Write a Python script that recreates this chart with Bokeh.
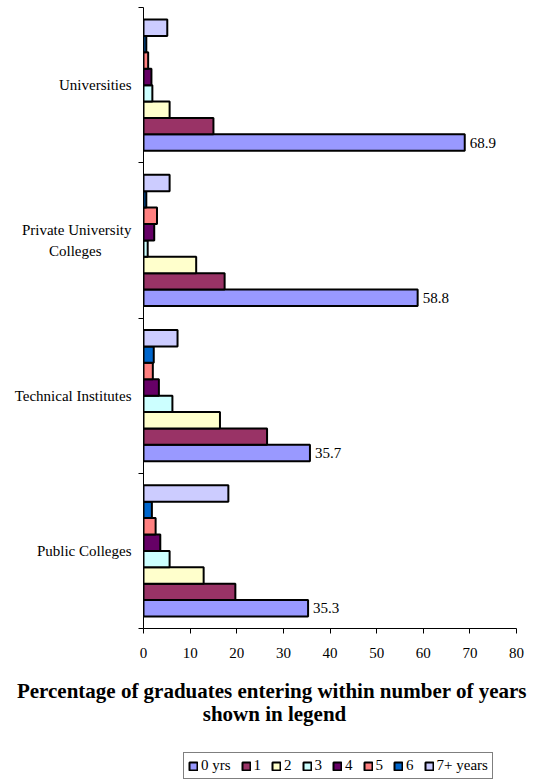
from bokeh.plotting import figure
from bokeh.models import (Range1d, FixedTicker, ColumnDataSource,
                          Legend, LegendItem, Label)
from bokeh.transform import dodge
from bokeh.core.properties import value
from bokeh.embed import file_html
from bokeh.resources import INLINE

# ---------------- data ----------------
categories = ["Universities", "Private University Colleges", "Technical Institutes", "Public Colleges"]
category_labels = ["Universities", "Private University\nColleges" + "\u00a0" * 8,
                   "Technical Institutes", "Public Colleges"]
series_names = ["0 yrs", "1", "2", "3", "4", "5", "6", "7+ years"]
yrs0 = [68.9, 58.8, 35.7, 35.3]
yrs1 = [15.0, 17.4, 26.5, 19.7]
yrs2 = [5.6, 11.3, 16.4, 12.9]
yrs3 = [1.9, 0.9, 6.2, 5.6]
yrs4 = [1.7, 2.3, 3.3, 3.6]
yrs5 = [1.0, 2.9, 2.0, 2.6]
yrs6 = [0.6, 0.6, 2.2, 1.8]
yrs7 = [5.1, 5.6, 7.3, 18.2]
series_values = [yrs0, yrs1, yrs2, yrs3, yrs4, yrs5, yrs6, yrs7]
colors = ["#9999FF", "#993366", "#FFFFCC", "#CCFFFF", "#660066", "#FF8080", "#0066CC", "#CCCCFF"]
x_ticks = [0, 10, 20, 30, 40, 50, 60, 70, 80]
title_lines = ["Percentage of graduates entering within  number of years", "shown in legend"]

FONT = "Liberation Serif"
ncat = len(categories)
# category slot centres (first category at the top)
cat_pos = [ncat - 1 - i + 0.5 for i in range(ncat)]

W = 551
H1 = 665
H2 = 114

p = figure(width=W, height=H1,
           y_range=Range1d(0, ncat), x_range=Range1d(0, 80),
           output_backend="svg", toolbar_location=None,
           min_border_left=143, min_border_right=35, min_border_top=7, min_border_bottom=37)
p.outline_line_color = None
p.background_fill_color = "white"
p.border_fill_color = "white"

data = {"cat": categories, "pos": cat_pos}
keys = []
for i, vals in enumerate(series_values):
    k = f"s{i}"
    keys.append(k)
    data[k] = vals
data["label0"] = [f"{v:.1f}" for v in yrs0]
src = ColumnDataSource(data)

n = len(series_names)
group_h = 0.845
bar_h = group_h / n
offsets = []
for i, (k, c) in enumerate(zip(keys, colors)):
    off = -group_h / 2 + (i + 0.5) * bar_h
    offsets.append(off)
    p.hbar(y=dodge("pos", off), left=0, right=k, height=bar_h,
           source=src, fill_color=c, line_color="black", line_width=2)

p.text(x="s0", y=dodge("pos", offsets[0]), text="label0", source=src,
       x_offset=5, text_baseline="middle", text_align="left",
       text_font=value(FONT), text_font_size="15px", text_color="black")

# y axis: labels at slot centres, ticks at slot boundaries
yax = p.yaxis[0]
yax.ticker = FixedTicker(ticks=cat_pos, minor_ticks=list(range(ncat + 1)))
yax.major_label_overrides = {pos: lbl for pos, lbl in zip(cat_pos, category_labels)}
yax.major_tick_line_color = None
yax.major_tick_out = 0
yax.major_tick_in = 0
yax.minor_tick_out = 5
yax.minor_tick_in = 0
yax.minor_tick_line_color = "black"
yax.axis_line_color = "black"
yax.major_label_text_font = FONT
yax.major_label_text_font_size = "15px"
yax.major_label_text_color = "black"
yax.major_label_text_line_height = 1.35
yax.major_label_standoff = 7

# x axis
xax = p.xaxis[0]
xax.ticker = FixedTicker(ticks=x_ticks)
xax.minor_tick_line_color = None
xax.major_tick_out = 5
xax.major_tick_in = 0
xax.axis_line_color = "black"
xax.major_tick_line_color = "black"
xax.major_label_text_font = FONT
xax.major_label_text_font_size = "15px"
xax.major_label_text_color = "black"
xax.major_label_standoff = 14

p.xgrid.visible = False
p.ygrid.visible = False

# ---------- lower panel: axis title and legend ----------
p2 = figure(width=W, height=H2, x_range=Range1d(0, W), y_range=Range1d(H2, 0),
            output_backend="svg", toolbar_location=None,
            x_axis_location=None, y_axis_location=None,
            min_border=0, min_border_left=0, min_border_right=0,
            min_border_top=0, min_border_bottom=0)
p2.outline_line_color = None
p2.grid.visible = False
p2.background_fill_color = "white"
p2.border_fill_color = "white"

for line, yy in zip(title_lines, [25, 48]):
    p2.add_layout(Label(x=274, y=yy, text=line,
                        text_align="center", text_baseline="middle", text_font=FONT,
                        text_font_style="bold", text_font_size="21px", text_color="black"))

# legend keys: renderers carrying no drawable point (NaN), used only for the legend swatches
nan = float("nan")
key_src = ColumnDataSource(dict(y=[nan], right=[nan]))
leg_renderers = []
for c in colors:
    r = p2.hbar(y="y", right="right", left=0, height=1, source=key_src,
                fill_color=c, line_color="black", line_width=2)
    leg_renderers.append(r)

items = [LegendItem(label=name, renderers=[r]) for name, r in zip(series_names, leg_renderers)]
leg = Legend(items=items, orientation="horizontal", location=(183, 0),
             glyph_width=10, glyph_height=10, label_standoff=3, spacing=10, padding=4,
             margin=0, label_height=16, label_width=5,
             label_text_font=FONT, label_text_font_size="15px", label_text_color="black",
             border_line_color="black", border_line_width=1,
             background_fill_color="white", background_fill_alpha=1)
p2.add_layout(leg)

open("out.html", "w").write(file_html([p, p2], INLINE))
